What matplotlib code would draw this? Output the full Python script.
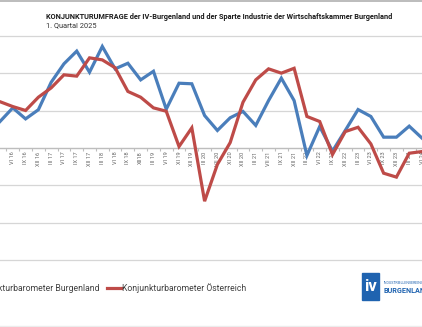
import matplotlib
matplotlib.use("Agg")
import matplotlib.pyplot as plt
from matplotlib.lines import Line2D
from matplotlib.patches import Rectangle
from matplotlib.ticker import MultipleLocator, FixedLocator

plt.rcParams['font.family'] = ['Roboto', 'DejaVu Sans']

# Quarterly survey periods
periods = ["III 16", "VI 16", "IX 16", "XII 16", "III 17", "VI 17", "IX 17", "XII 17",
           "III 18", "VI 18", "IX 18", "XII18", "III 19", "VI 19", "XI 19", "XII 19",
           "III 20", "VII 20", "XI 20", "XII 20", "III 21", "VII 21", "IX 21", "XII 21",
           "III 22", "VI 22", "IX 22", "XII 22", "III 23", "VI 23", "IX 23", "XII 23",
           "III 24", "VI 24"]

burgenland = [14.2, 21.5, 15.6, 20.5, 35.2, 45.1, 51.9, 40.6,
              54.4, 42.4, 45.4, 36.5, 41.1, 20.8, 34.7, 34.4,
              17.4, 9.4, 16.2, 19.6, 12.1, 25.4, 37.4, 25.4,
              -4.0, 11.5, -1.7, 9.4, 20.6, 16.9, 5.8, 5.8,
              11.7, 5.3]

oesterreich = [24.8, 22.2, 20.1, 27.2, 32.2, 39.2, 38.5, 48.3,
               47.2, 43.0, 30.3, 27.2, 21.5, 19.7, 0.8, 10.8,
               -28.5, -8.8, 2.9, 24.5, 36.5, 42.4, 40.1, 42.7,
               16.9, 14.2, -3.5, 8.8, 11.1, 2.2, -13.5, -15.6,
               -2.8, -1.9]

blue = '#4a7ebb'
red = '#be4b48'
W, H = 422, 327

fig = plt.figure(figsize=(W / 100, H / 100), dpi=100)

# header
fig.add_artist(Line2D([0, 1], [1 - 1 / H, 1 - 1 / H], color='#b0b0b0', lw=1.2))
fig.text(46 / W, 1 - 17 / H, "KONJUNKTURUMFRAGE der IV-Burgenland und der Sparte Industrie der Wirtschaftskammer Burgenland",
         fontsize=5.3, fontweight='bold', color='#1a1a1a', va='center', ha='left')
fig.text(46 / W, 1 - 25.5 / H, "1. Quartal 2025", fontsize=5.3, color='#333333', va='center', ha='left')

ax = fig.add_axes([0, 1 - 260 / H, 1, (260 - 36) / H])
x = list(range(len(periods)))
ax.plot(x, burgenland, color=blue, lw=2.3, zorder=3, solid_joinstyle='miter')
ax.plot(x, oesterreich, color=red, lw=2.3, zorder=4, solid_joinstyle='miter')

ax.set_xlim(0.444, 32.58)
ax.set_ylim(-60, 60)
ax.yaxis.set_major_locator(MultipleLocator(20))
ax.grid(axis='y', color='#d6d6d6', lw=0.9)
for gl in ax.get_ygridlines():
    gl.set_clip_on(False)
ax.tick_params(axis='y', length=0, labelleft=False)

for side in ['top', 'left', 'right']:
    ax.spines[side].set_visible(False)
ax.spines['bottom'].set_position(('data', 0))
ax.spines['bottom'].set_color('#bdbdbd')
ax.spines['bottom'].set_linewidth(0.9)

ax.set_xticks(x)
ax.set_xticklabels(periods, rotation=90, fontsize=4.1, color='#666666', va='top', ha='center')
ax.xaxis.set_minor_locator(FixedLocator([i + 0.5 for i in x]))
ax.tick_params(axis='x', which='major', length=0, pad=2.5)
ax.tick_params(axis='x', which='minor', length=2.2, color='#bdbdbd', width=0.8)

# legend
handles = [Line2D([], [], color=blue, lw=2.3), Line2D([], [], color=red, lw=2.3)]
fig.legend(handles, ["Konjunkturbarometer Burgenland", "Konjunkturbarometer Österreich"],
           loc='center left', bbox_to_anchor=(-44 / W, 1 - 288 / H), ncol=2, frameon=False,
           fontsize=6.2, labelcolor='#404040', handlelength=1.6, handletextpad=0.1,
           columnspacing=0.9, borderaxespad=0, borderpad=0)

# logo
fig.add_artist(Rectangle((362 / W, 1 - 300 / H), 16.5 / W, 27 / H, color='#1f63b0'))
fig.text(370.2 / W, 1 - 286.5 / H, "iv", color='white', fontsize=12, fontweight='bold',
         ha='center', va='center')
fig.text(384 / W, 1 - 283.5 / H, "INDUSTRIELLENVEREINIGUNG", color='#1f63b0', fontsize=2.6,
         ha='left', va='center')
fig.text(384 / W, 1 - 291 / H, "BURGENLAND", color='#1f63b0', fontsize=5.2, fontweight='bold',
         ha='left', va='center')

fig.add_artist(Line2D([0, 1], [1 - 326 / H, 1 - 326 / H], color='#ececec', lw=1))

fig.savefig("out.png", dpi=100)
